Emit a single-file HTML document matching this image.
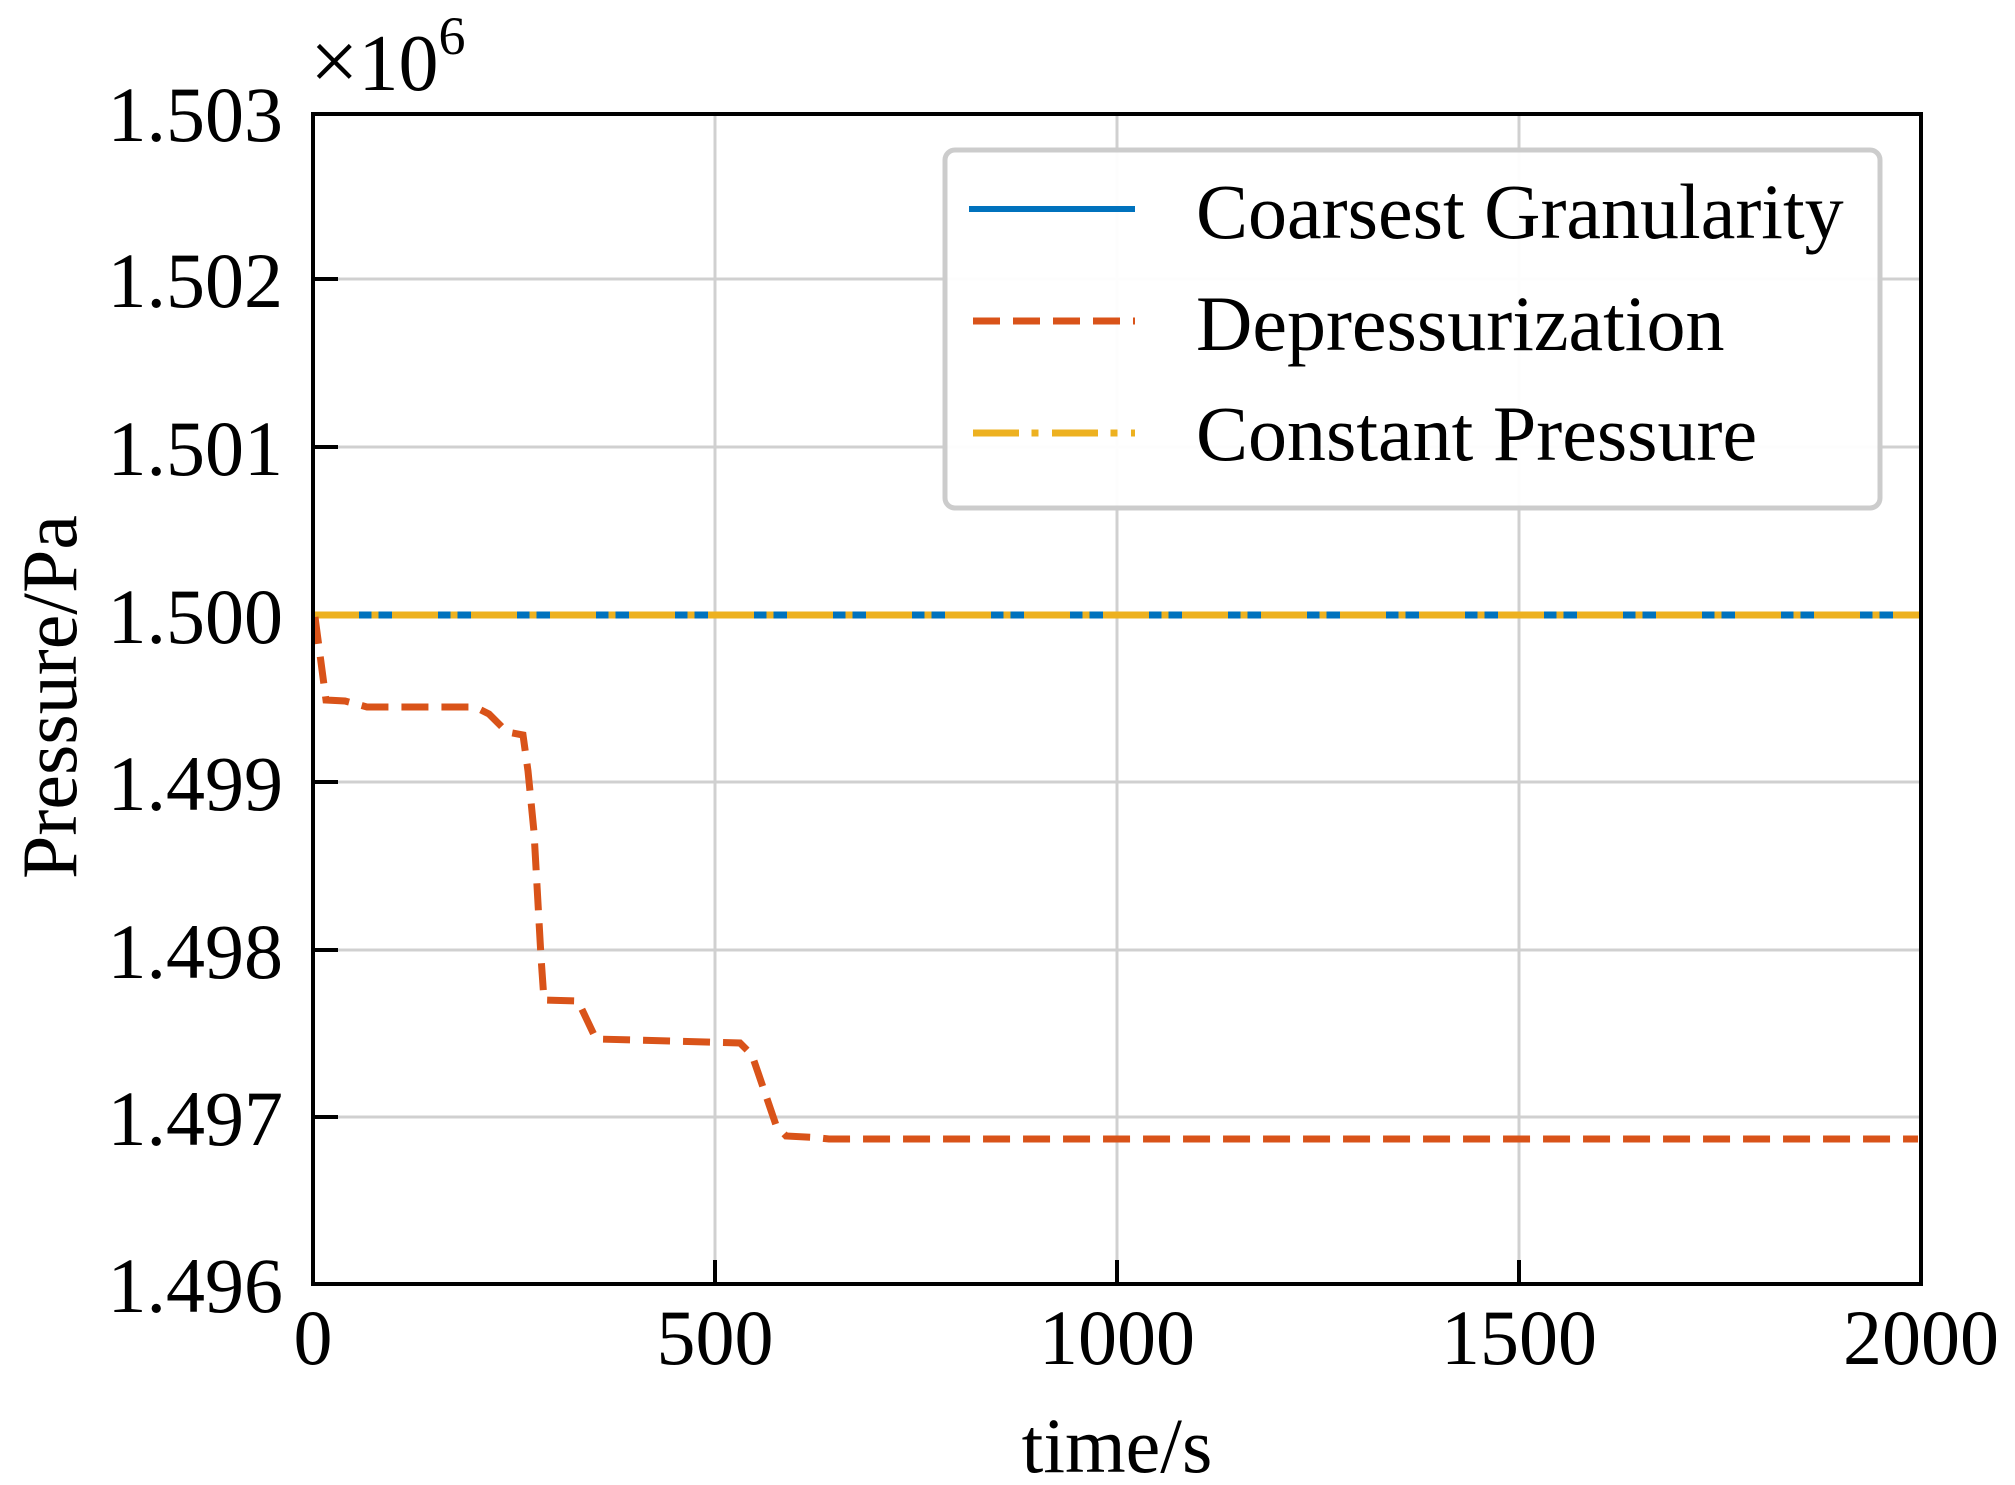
<!DOCTYPE html>
<html><head><meta charset="utf-8"><style>
html,body{margin:0;padding:0;background:#fff;}
svg{display:block;}
text{font-family:"Liberation Serif","Times New Roman",serif;fill:#000;}
</style></head><body>
<svg width="2015" height="1485" viewBox="0 0 2015 1485" xmlns="http://www.w3.org/2000/svg">
<rect width="2015" height="1485" fill="#fff"/>
<g stroke="#d0d0d0" stroke-width="3">
<line x1="715" y1="114" x2="715" y2="1284"/>
<line x1="1117" y1="114" x2="1117" y2="1284"/>
<line x1="1519" y1="114" x2="1519" y2="1284"/>
<line x1="313" y1="279" x2="1921" y2="279"/>
<line x1="313" y1="447" x2="1921" y2="447"/>
<line x1="313" y1="615" x2="1921" y2="615"/>
<line x1="313" y1="782" x2="1921" y2="782"/>
<line x1="313" y1="950" x2="1921" y2="950"/>
<line x1="313" y1="1117" x2="1921" y2="1117"/>
</g>
<g stroke="#000" stroke-width="4">
<line x1="715" y1="1284" x2="715" y2="1260"/>
<line x1="1117" y1="1284" x2="1117" y2="1260"/>
<line x1="1519" y1="1284" x2="1519" y2="1260"/>
<line x1="313" y1="279" x2="338" y2="279"/>
<line x1="313" y1="447" x2="338" y2="447"/>
<line x1="313" y1="615" x2="338" y2="615"/>
<line x1="313" y1="782" x2="338" y2="782"/>
<line x1="313" y1="950" x2="338" y2="950"/>
<line x1="313" y1="1117" x2="338" y2="1117"/>
</g>
<line x1="313" y1="615" x2="1921" y2="615" stroke="#0072BD" stroke-width="7"/>
<line x1="313" y1="615" x2="1921" y2="615" stroke="#EDB120" stroke-width="7" stroke-dasharray="46 12.5 7 13.5"/>
<polyline fill="none" stroke="#D95319" stroke-width="7" stroke-dasharray="27 13"
points="315,617 326,700 345,701 367,707 475,707 489,714 507,732 523,735 528,771 534,832 541,957 544,1000 578,1001 596,1039 671,1041 740,1043 752,1055 776,1125 786,1136 815,1137.5 829,1139 1918,1139"/>
<rect x="313" y="114" width="1608" height="1170" fill="none" stroke="#000" stroke-width="4"/>
<g font-size="78" text-anchor="end">
<text x="283" y="141">1.503</text>
<text x="283" y="307">1.502</text>
<text x="283" y="475">1.501</text>
<text x="283" y="643">1.500</text>
<text x="283" y="810">1.499</text>
<text x="283" y="978">1.498</text>
<text x="283" y="1145">1.497</text>
<text x="283" y="1312">1.496</text>
</g>
<g font-size="78" text-anchor="middle">
<text x="313" y="1364">0</text>
<text x="715" y="1364">500</text>
<text x="1117" y="1364">1000</text>
<text x="1519" y="1364">1500</text>
<text x="1921" y="1364">2000</text>
<text x="1117" y="1472">time/s</text>
<text transform="translate(76,697) rotate(-90)">Pressure/Pa</text>
</g>
<text x="310" y="90" font-size="80"><tspan font-size="86">×</tspan>10<tspan font-size="54" dy="-36">6</tspan></text>
<rect x="945" y="150" width="935" height="358" rx="10" fill="#fff" fill-opacity="0.95" stroke="#cccccc" stroke-width="5"/>
<line x1="969" y1="209" x2="1135" y2="209" stroke="#0072BD" stroke-width="6"/>
<line x1="973" y1="321" x2="1135" y2="321" stroke="#D95319" stroke-width="7" stroke-dasharray="27 13"/>
<line x1="973" y1="433" x2="1135" y2="433" stroke="#EDB120" stroke-width="7" stroke-dasharray="46 12.5 7 13.5"/>
<g font-size="78">
<text x="1196" y="238">Coarsest Granularity</text>
<text x="1196" y="350">Depressurization</text>
<text x="1196" y="460">Constant Pressure</text>
</g>
</svg>
</body></html>
